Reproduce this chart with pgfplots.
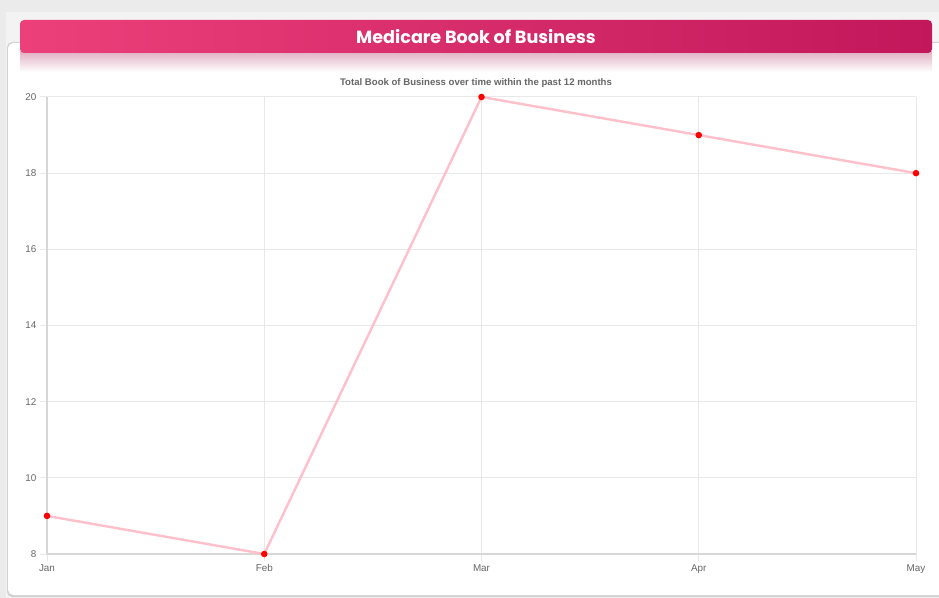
\documentclass[border=0pt]{standalone}
\usepackage{pgfplots}
\pgfplotsset{compat=1.18}
\usepackage{fontspec}
\setmainfont{Liberation Sans}
\newfontfamily\titlefont{Poppins}
\definecolor{bgA}{RGB}{235,235,235}
\definecolor{bgB}{RGB}{243,243,243}
\definecolor{bannerL}{RGB}{236,64,122}
\definecolor{bannerR}{RGB}{194,24,91}
\definecolor{lineP}{RGB}{255,192,203}
\definecolor{gridc}{RGB}{232,232,232}
\definecolor{axc}{RGB}{215,215,215}
\definecolor{tickc}{RGB}{102,102,102}
\definecolor{shadowc}{RGB}{225,178,196}
\begin{document}
\begin{tikzpicture}
\begin{scope}[x=0.75bp,y=0.75bp]
\useasboundingbox (0,0) rectangle (939,598);
\fill[bgA] (0,0) rectangle (939,598);
\fill[bgB] (6,0) rectangle (939,586);
% card
\fill[black!18,rounded corners=4] (7,1) rectangle (945,556);
\fill[white,rounded corners=4] (8,3) rectangle (945,555);
% banner shadow
\shade[top color=shadowc,bottom color=white] (20,526) rectangle (932,546);
% banner
\shade[left color=bannerL,right color=bannerR,rounded corners=3] (20,545) rectangle (932,578);
\node[text=white,font=\titlefont\bfseries\fontsize{13.2bp}{15bp}\selectfont] at (476,561) {Medicare Book of Business};
% subtitle
\node[text=tickc,font=\bfseries\fontsize{7.2bp}{8.5bp}\selectfont] at (476,515) {Total Book of Business over time within the past 12 months};
\end{scope}
\begin{axis}[
  at={(35.25bp,33bp)}, anchor=south west,
  scale only axis,
  width=651.75bp, height=342.75bp,
  xmin=0, xmax=4, ymin=8, ymax=20,
  xtick={0,1,2,3,4},
  xticklabels={Jan,Feb,Mar,Apr,May},
  ytick={8,10,12,14,16,18,20},
  grid=major,
  grid style={gridc, line width=0.75bp},
  axis lines=left,
  axis line style={axc, line width=0.8bp, -},
  tick style={gridc, line width=0.75bp},
  tick align=outside,
  major tick length=5.5bp,
  ticklabel style={text=tickc, font=\fontsize{7.4bp}{9bp}\selectfont},
  /pgf/number format/assume math mode=true,
  xticklabel style={yshift=1bp},
  yticklabel style={xshift=1bp},
  clip=false,
]
\addplot[lineP, line width=1.8bp, mark=*, mark size=1.5bp, mark options={fill=red, draw=red}]
  coordinates {(0,9) (1,8) (2,20) (3,19) (4,18)};
\end{axis}
\end{tikzpicture}
\end{document}
